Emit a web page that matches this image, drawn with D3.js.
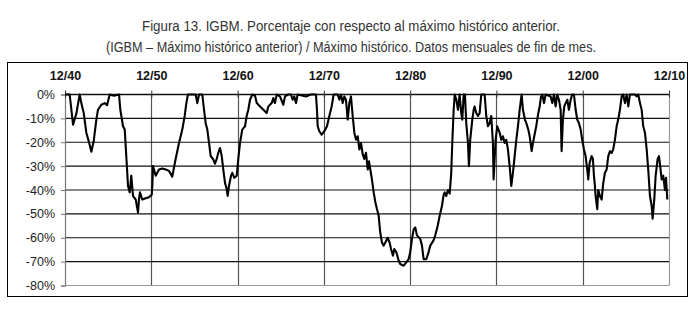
<!DOCTYPE html>
<html><head><meta charset="utf-8">
<script src="https://cdn.jsdelivr.net/npm/d3@7"></script>
<style>body{margin:0;background:#fff}svg{display:block}</style>
</head><body>
<svg id="c" width="694" height="313"></svg>
<script>
const titleLines = ["Figura 13. IGBM. Porcentaje con respecto al máximo histórico anterior.",
  "(IGBM – Máximo histórico anterior) / Máximo histórico. Datos mensuales de fin de mes."];
const tickYears = [1940.917,1950.917,1960.917,1970.917,1980.917,1990.917,2000.917,2010.917];
const tickLabels = ["12/40","12/50","12/60","12/70","12/80","12/90","12/00","12/10"];
const yTicks = [0,-10,-20,-30,-40,-50,-60,-70,-80];
const years = [1940.92,1941.46,1941.85,1942.23,1942.62,1942.81,1943.09,1943.39,1943.7,1943.97,1944.24,1944.55,1944.74,1945.13,1945.52,1945.79,1946.1,1946.6,1947.18,1947.33,1947.64,1947.84,1948.02,1948.22,1948.42,1948.6,1948.8,1949.11,1949.38,1949.49,1949.6,1949.88,1950.27,1950.65,1950.97,1951.04,1951.12,1951.43,1951.81,1952.2,1952.59,1952.97,1953.35,1953.74,1954.13,1954.51,1954.79,1954.98,1955.17,1955.6,1956.06,1956.25,1956.45,1956.83,1957.03,1957.22,1957.41,1957.61,1957.8,1958.07,1958.3,1958.5,1958.68,1958.88,1959.08,1959.26,1959.46,1959.66,1959.77,1959.92,1960.16,1960.31,1960.54,1960.82,1961.0,1961.2,1961.46,1961.78,1961.97,1962.16,1962.36,1962.63,1962.94,1963.14,1963.52,1963.91,1964.29,1964.48,1964.87,1965.06,1965.25,1965.45,1965.83,1966.22,1966.41,1966.8,1967.11,1967.3,1967.49,1967.69,1967.88,1968.85,1969.4,1970.0,1970.12,1970.2,1970.39,1970.66,1970.97,1971.28,1971.55,1971.82,1972.05,1972.52,1972.71,1972.9,1973.1,1973.29,1973.48,1973.68,1973.87,1974.06,1974.26,1974.45,1974.64,1974.84,1975.03,1975.22,1975.42,1975.6,1975.8,1976.0,1976.15,1976.3,1976.49,1976.69,1976.88,1977.07,1977.27,1977.45,1977.65,1977.85,1978.04,1978.31,1978.54,1978.7,1978.93,1979.08,1979.31,1979.59,1979.77,1980.17,1980.47,1980.74,1980.93,1981.13,1981.33,1981.51,1981.71,1982.09,1982.29,1982.48,1982.79,1983.06,1983.25,1983.64,1983.83,1984.11,1984.34,1984.6,1984.8,1984.92,1985.1,1985.3,1985.5,1985.68,1985.8,1985.96,1986.08,1986.27,1986.46,1986.65,1986.84,1986.96,1987.12,1987.27,1987.42,1987.62,1987.73,1987.88,1988.12,1988.28,1988.39,1988.58,1988.78,1988.97,1989.16,1989.55,1989.74,1989.94,1990.13,1990.32,1990.51,1990.59,1990.82,1991.01,1991.29,1991.48,1991.67,1991.87,1992.06,1992.25,1992.45,1992.64,1992.83,1993.03,1993.22,1993.41,1993.61,1993.76,1993.84,1993.99,1994.22,1994.38,1994.61,1994.77,1995.0,1995.15,1995.38,1995.53,1995.77,1995.93,1996.08,1996.23,1996.43,1996.62,1997.2,1997.39,1997.58,1997.78,1997.96,1998.16,1998.36,1998.47,1998.62,1998.78,1998.94,1999.13,1999.32,1999.52,1999.7,1999.9,2000.1,2000.28,2000.48,2000.68,2000.86,2001.06,2001.25,2001.44,2001.56,2001.72,2001.95,2002.1,2002.22,2002.33,2002.41,2002.5,2002.6,2002.72,2002.91,2003.11,2003.3,2003.49,2003.69,2003.88,2004.07,2004.27,2004.45,2004.65,2004.85,2005.03,2005.23,2005.43,2005.61,2005.81,2006.01,2006.2,2006.39,2006.97,2007.17,2007.36,2007.55,2007.75,2007.93,2008.13,2008.33,2008.51,2008.71,2008.91,2009.02,2009.21,2009.37,2009.6,2009.75,2009.9,2010.06,2010.25,2010.45,2010.57,2010.72];
const drawdown = [0,0,-12.6,-8,0,-3.6,-7.8,-16,-20,-24,-19.6,-10.5,-6.4,-4.3,-3.6,-4.5,0,-0.5,0,-6.4,-13.3,-14.7,-25.8,-38.3,-41,-34,-42.5,-44,-49.4,-44,-41,-44,-43.5,-43,-42,-38,-30,-34,-31.4,-31,-31.4,-32,-34.4,-27,-20.3,-14.7,-9,-3.6,0,0,0,-3.6,0,0,-6.4,-12,-14.7,-20.3,-25.8,-27,-29,-27,-24.4,-22.4,-25.8,-31.4,-37,-39.7,-42.5,-38.3,-34,-32.8,-34.9,-34,-27,-20.3,-14.7,-13.3,-9,-6.4,-2.2,0,-0.5,-3.6,-5,-6.4,-7.8,-5,-3.6,-1.5,-3.6,0,-0.8,-4.3,-0.8,0,0,-2.2,-0.8,-3.6,0,-0.8,0,0,-6.4,-13.3,-15.4,-16.8,-15.4,-13.3,-9,-5,0,0,-2.2,0,-3.6,-0.8,-2.2,-10.5,-3.6,-0.8,-9,-16,-18.9,-17.5,-23,-20.3,-25,-27,-24.4,-31.4,-28,-31.4,-35.6,-41,-45,-48,-50.8,-57.8,-62,-63.3,-62,-60,-62,-64.7,-67.5,-64.7,-66,-69.6,-71,-71.7,-70.3,-69,-66,-60.5,-56.4,-55.7,-59,-60.5,-63.3,-69,-69,-66,-63.3,-61,-59,-55,-50.8,-46.7,-42,-41,-42.5,-40,-41.5,-32.8,-20.3,-6.4,0,-2.2,-6.4,0,-7.8,-10.5,0,0,-12,-20.3,-30,-19,-10.5,-6.4,-5,-7.8,-9,-7.8,0,0,-9,-13.3,-12,-9,-20.3,-35.6,-19,-13.3,-16,-19,-17.5,-20.3,-19,-23,-30,-38.3,-32.8,-25.8,-19,-13.3,-6.4,-2.2,0,-6.4,-10.5,-12,-14.7,-17.5,-23.7,-20.3,-16,-13.3,-7.8,-5,-1,0,-3.6,0,-0.8,-3.6,0,-5,0,-2.2,-6.4,-23.7,-10.5,-5,-3.6,-2.2,-6.4,-2.2,0,0,-6.4,-10.5,-12,-14.7,-19,-23,-25.8,-31.4,-35.6,-28.6,-25.8,-27,-34,-38.3,-42.5,-45,-48,-40,-42.5,-44,-37,-32.8,-31.4,-25.8,-23.7,-24.5,-23,-19,-13.3,-10.5,-6.4,-0.8,0,-3.6,0,-5,0,0,-0.8,0,-3.6,-6.4,-13.3,-16,-23,-31.4,-42.5,-46.7,-52,-44,-34,-27,-25.8,-30,-35.6,-34,-40,-34.9,-44];

const svg = d3.select("#c");
const x = d3.scaleLinear().domain([tickYears[0], tickYears[tickYears.length-1]]).range([65, 669]);
const y = d3.scaleLinear().domain([0, -80]).range([94.5, 285.5]);

// titles (narrow look, compressed to the reference widths)
const titleWidths = [418, 490];
svg.selectAll("text.title").data(titleLines).enter().append("text")
  .attr("class","title")
  .attr("x", 351).attr("y", (d,i)=> 31 + i*21)
  .attr("text-anchor","middle")
  .attr("textLength",(d,i)=>titleWidths[i]).attr("lengthAdjust","spacingAndGlyphs")
  .style("font-family","'Liberation Sans',Arial,sans-serif")
  .style("font-size","14px").style("fill","#333").text(d=>d);

// outer frame
svg.append("rect").attr("x",7.5).attr("y",62.5).attr("width",680).attr("height",234)
  .attr("fill","none").attr("stroke","#000").attr("stroke-width",1);

// vertical decade lines
svg.append("g").selectAll("line").data(tickYears.slice(1)).enter().append("line")
  .attr("x1",d=>Math.round(x(d))+0.5).attr("x2",d=>Math.round(x(d))+0.5)
  .attr("y1",y(0)).attr("y2",y(-80))
  .attr("stroke",(d,i)=> i===tickYears.length-2 ? "#999" : "#555").attr("stroke-width",1.2);

// horizontal gridlines
svg.append("g").selectAll("line").data(yTicks).enter().append("line")
  .attr("x1",x(tickYears[0])).attr("x2",x(tickYears[tickYears.length-1]))
  .attr("y1",d=>y(d)).attr("y2",d=>y(d))
  .attr("stroke",d=> d===-80 ? "#999" : "#111").attr("stroke-width",d=> d===0 ? 1.4 : 1.2);

// left axis
const yAxis = d3.axisLeft(y).tickValues(yTicks).tickSize(4).tickPadding(6).tickFormat(d=>d+"%");
const gy = svg.append("g").attr("transform","translate(65,0)").call(yAxis);
gy.select(".domain").attr("stroke","#777").attr("stroke-width",1.2);
gy.selectAll(".tick line").attr("stroke","#777");
gy.selectAll("text").style("font-family","'Liberation Sans',Arial,sans-serif").style("font-size","12.5px").attr("fill","#222");

// top axis (at 0% line)
const xAxis = d3.axisTop(x).tickValues(tickYears).tickSize(4).tickFormat((d,i)=>tickLabels[i]);
const gx = svg.append("g").attr("transform",`translate(0,${y(0)})`).call(xAxis);
gx.select(".domain").remove();
gx.selectAll(".tick line").attr("stroke","#333").attr("y2",-4).attr("y1",3);
gx.selectAll("text").attr("y",-15).style("font-family","'Liberation Sans',Arial,sans-serif")
  .style("font-size","12.5px").style("font-weight","bold").attr("fill","#111");

// series
const pts = years.map((t,i)=>[t, drawdown[i]]);
svg.append("path").datum(pts)
  .attr("d", d3.line().x(d=>x(d[0])).y(d=>y(d[1])))
  .attr("fill","none").attr("stroke","#000").attr("stroke-width",2.1).attr("stroke-linejoin","round");
</script>
</body></html>
